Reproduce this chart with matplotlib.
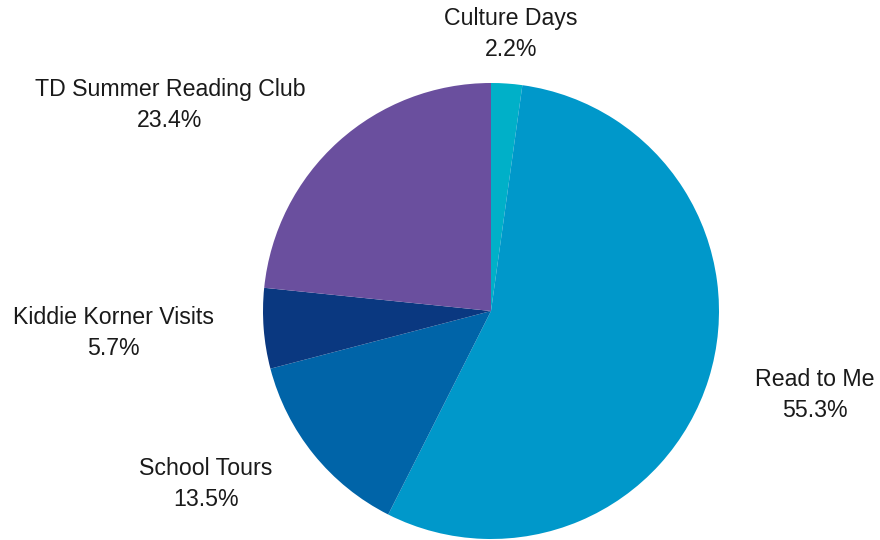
import matplotlib
matplotlib.use('Agg')
import matplotlib.pyplot as plt

plt.rcParams['font.family'] = ['Liberation Sans', 'DejaVu Sans']

# Share of participants per program
programs = ['Culture Days', 'Read to Me', 'School Tours', 'Kiddie Korner Visits', 'TD Summer Reading Club']
shares = [2.2, 55.3, 13.5, 5.7, 23.4]
colors = ['#00B0C8', '#0098CA', '#0064A8', '#0A3880', '#6A4F9E']

# label centres in pixel coords (x, y from top)
label_pos = [(511, 34), (815, 395), (206, 484), (113, 333), (170, 105)]

W, H = 880, 540
fig = plt.figure(figsize=(W / 100, H / 100), dpi=100)
ax = fig.add_axes([0, 0, 1, 1])
ax.set_xlim(0, W)
ax.set_ylim(0, H)
ax.set_aspect('equal')

ax.pie(shares, colors=colors, startangle=90, counterclock=False,
       center=(491, H - 311), radius=228, frame=True,
       wedgeprops=dict(linewidth=0))
ax.axis('off')

for name, val, (x, y) in zip(programs, shares, label_pos):
    ax.text(x, H - y, f'{name}\n{val:.1f}%', ha='center', va='center',
            fontsize=16.7, linespacing=1.48, color='#1a1a1a')

fig.savefig('out.png', dpi=100)
